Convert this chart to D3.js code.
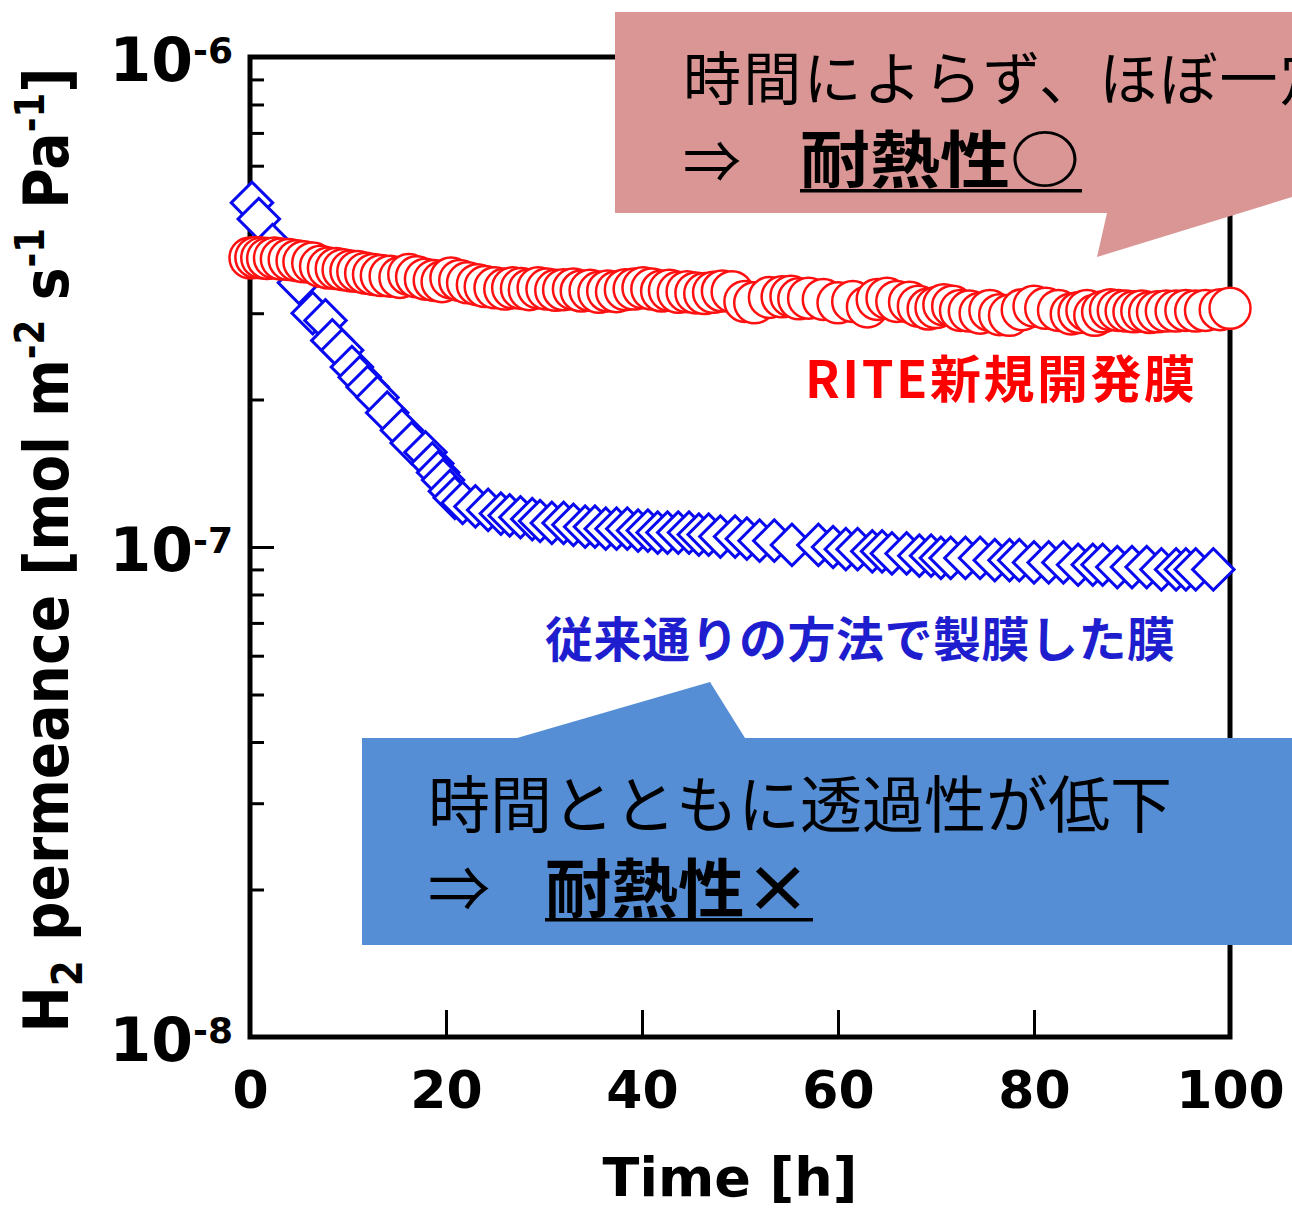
<!DOCTYPE html>
<html>
<head>
<meta charset="utf-8">
<script src="https://cdn.jsdelivr.net/npm/d3@7"></script>
<style>
  body { margin: 0; background: #fff; }
  svg { display: block; }
</style>
</head>
<body>
<script>
// H2 permeance of the newly developed membrane (RITE) vs time, in units of 1e-7 mol m-2 s-1 Pa-1
const hoursNew = [
  0, 0.6, 1.2, 1.8, 2.5, 3.2, 4.0, 4.8, 5.5, 6.4,
  7.2, 8.0, 8.8, 9.5, 10.3, 11.0, 11.8, 12.6, 13.4, 14.3,
  15.3, 16.2, 17.0, 17.9, 18.8, 19.6, 20.5, 21.4, 22.2, 23.2,
  24.0, 25.0, 26.0, 26.8, 27.7, 28.5, 29.4, 30.3, 31.2, 32.0,
  33.0, 33.8, 34.7, 35.6, 36.5, 37.4, 38.3, 39.2, 40.1, 41.0,
  42.0, 42.8, 43.7, 44.6, 45.5, 46.4, 47.3, 48.2, 49.2, 50.5,
  51.5, 53.0, 54.3, 55.2, 56.0, 57.0, 58.5, 60.0, 61.5, 63.0,
  64.0, 65.0, 66.0, 67.3, 68.2, 69.2, 70.0, 70.8, 71.7, 72.5,
  73.4, 74.5, 75.5, 76.5, 77.5, 78.8, 80.0, 81.2, 82.5, 83.8,
  84.6, 85.4, 86.2, 87.0, 87.8, 88.6, 89.4, 90.2, 91.0, 91.8,
  92.6, 93.5, 94.5, 95.5, 96.5, 97.5, 99.0, 100.0
];
const permNew = [
  3.89, 3.90, 3.89, 3.88, 3.89, 3.87, 3.86, 3.84, 3.82, 3.80,
  3.74, 3.71, 3.70, 3.68, 3.66, 3.65, 3.62, 3.60, 3.58, 3.57,
  3.55, 3.60, 3.56, 3.52, 3.50, 3.48, 3.54, 3.50, 3.46, 3.43,
  3.40, 3.38, 3.36, 3.38, 3.37, 3.35, 3.38, 3.36, 3.34, 3.35,
  3.36, 3.33, 3.34, 3.31, 3.33, 3.32, 3.35, 3.36, 3.38, 3.36,
  3.33, 3.34, 3.31, 3.32, 3.30, 3.29, 3.31, 3.33, 3.32, 3.17,
  3.15, 3.23, 3.24, 3.25, 3.21, 3.22, 3.20, 3.15, 3.17, 3.09,
  3.20, 3.22, 3.17, 3.16, 3.10, 3.06, 3.08, 3.12, 3.10, 3.04,
  3.03, 3.00, 3.04, 2.98, 2.97, 3.05, 3.10, 3.07, 3.04, 2.99,
  3.01, 3.04, 2.97, 3.02, 3.05, 3.04, 3.03, 3.02, 3.03, 3.01,
  3.02, 3.03, 3.03, 3.04, 3.03, 3.04, 3.05, 3.07
];

// Conventionally prepared membrane, same units
const hoursOld = [
  0.2, 0.9, 2.3, 3.8, 5.0, 6.4, 7.7, 8.4, 9.4, 10.4,
  11.2, 12.0, 13.0, 14.0, 15.5, 16.5, 17.9, 18.6, 19.2, 19.7,
  20.4, 20.9, 21.7, 23.0, 24.3, 25.6, 26.5, 27.6, 28.8, 29.6,
  30.8, 32.0, 33.0, 34.2, 35.2, 36.3, 37.4, 38.5, 39.6, 40.6,
  41.6, 42.6, 43.7, 44.8, 45.8, 46.8, 48.0, 49.5, 50.7, 52.0,
  53.5, 55.3, 58.0, 59.5, 60.8, 62.0, 63.5, 64.5, 65.5, 67.0,
  68.3, 69.5, 70.5, 71.5, 73.0, 74.5, 76.0, 77.5, 78.5, 80.0,
  81.5, 83.0, 84.5, 86.0, 87.0, 88.5, 90.0, 91.5, 93.0, 94.5,
  95.5, 96.5, 98.3
];
const permOld = [
  5.04, 4.67, 4.13, 3.76, 3.46, 3.00, 2.90, 2.64, 2.52, 2.33,
  2.22, 2.12, 2.02, 1.88, 1.73, 1.63, 1.56, 1.48, 1.42, 1.37,
  1.30, 1.26, 1.23, 1.21, 1.19, 1.17, 1.16, 1.15, 1.14, 1.13,
  1.12, 1.12, 1.11, 1.10, 1.10, 1.09, 1.09, 1.09, 1.08, 1.08,
  1.07, 1.07, 1.07, 1.07, 1.06, 1.06, 1.05, 1.05, 1.04, 1.03,
  1.03, 1.01, 1.01, 1.00, 0.99, 0.99, 0.98, 0.98, 0.97, 0.97,
  0.96, 0.96, 0.95, 0.95, 0.95, 0.95, 0.94, 0.94, 0.94, 0.93,
  0.93, 0.93, 0.92, 0.92, 0.92, 0.91, 0.91, 0.91, 0.90, 0.90,
  0.90, 0.90, 0.90
];

const xTickValues = [0, 20, 40, 60, 80, 100];
const yDecadeExponents = [-6, -7, -8];
const labelNew = "RITE新規開発膜";
const labelOld = "従来通りの方法で製膜した膜";
const noteNew = ["時間によらず、ほぼ一定", "⇒", "耐熱性○"];
const noteOld = ["時間とともに透過性が低下", "⇒", "耐熱性×"];

const W = 1292, H = 1210;
const unit = 1e-7;
const latin = "'DejaVu Sans', Verdana, sans-serif";
const cjk = "'Noto Sans CJK JP', 'Noto Sans', sans-serif";

const svg = d3.select("body").append("svg")
  .attr("width", W).attr("height", H)
  .attr("viewBox", `0 0 ${W} ${H}`);
svg.append("rect").attr("width", W).attr("height", H).attr("fill", "#fff");

const x = d3.scaleLinear().domain([0, 100]).range([250, 1230]);
const y = d3.scaleLog().domain([1e-8, 1e-6]).range([1037, 57]);

// ---- axes ----
const minorTicks = [];
[-8, -7].forEach(e => { for (let m = 2; m <= 9; m++) minorTicks.push(m * Math.pow(10, e)); });

const gMinor = svg.append("g").attr("transform", `translate(${x(0)},0)`)
  .call(d3.axisLeft(y).tickValues(minorTicks).tickSize(-14).tickFormat(""));
gMinor.select(".domain").remove();
gMinor.selectAll(".tick line").attr("stroke", "#000").attr("stroke-width", 3);

const gMajor = svg.append("g").attr("transform", `translate(${x(0)},0)`)
  .call(d3.axisLeft(y).tickValues(yDecadeExponents.map(e => Math.pow(10, e))).tickSize(-24).tickFormat(""));
gMajor.select(".domain").remove();
gMajor.selectAll(".tick line").attr("stroke", "#000").attr("stroke-width", 3);

const gx = svg.append("g").attr("transform", `translate(0,${y(1e-8)})`)
  .call(d3.axisBottom(x).tickValues(xTickValues).tickSize(-27).tickPadding(34).tickFormat(d3.format("d")));
gx.select(".domain").remove();
gx.selectAll(".tick line").attr("stroke", "#000").attr("stroke-width", 3);
gx.selectAll(".tick text")
  .attr("font-family", latin).attr("font-weight", "bold")
  .attr("font-size", 52).attr("fill", "#000");

// y decade labels: 10^-6, 10^-7, 10^-8
yDecadeExponents.forEach(e => {
  const t = svg.append("text")
    .attr("x", 233).attr("y", y(Math.pow(10, e)) + 24)
    .attr("text-anchor", "end")
    .attr("font-family", latin).attr("font-weight", "bold").attr("fill", "#000");
  t.append("tspan").attr("font-size", 60).text("10");
  t.append("tspan").attr("font-size", 36).attr("dy", -18).text("-" + (-e));
});

// plot frame
svg.append("rect")
  .attr("x", x(0)).attr("y", y(1e-6))
  .attr("width", x(100) - x(0)).attr("height", y(1e-8) - y(1e-6))
  .attr("fill", "none").attr("stroke", "#000").attr("stroke-width", 5);

// axis titles
svg.append("text")
  .attr("x", x(50) - 10).attr("y", 1196)
  .attr("text-anchor", "middle")
  .attr("font-family", latin).attr("font-weight", "bold").attr("font-size", 54)
  .text("Time [h]");

const yt = svg.append("text")
  .attr("transform", `translate(68,${(y(1e-6) + y(1e-8)) / 2 + 3}) rotate(-90)`)
  .attr("text-anchor", "middle")
  .attr("font-family", latin).attr("font-weight", "bold").attr("font-size", 62)
  .attr("textLength", 965).attr("lengthAdjust", "spacingAndGlyphs");
yt.append("tspan").text("H");
yt.append("tspan").attr("font-size", 42).attr("dy", 14).text("2");
yt.append("tspan").attr("dy", -14).text(" permeance [mol m");
yt.append("tspan").attr("font-size", 40).attr("dy", -24).text("-2");
yt.append("tspan").attr("dy", 24).text(" s");
yt.append("tspan").attr("font-size", 40).attr("dy", -24).text("-1");
yt.append("tspan").attr("dy", 24).text(" Pa");
yt.append("tspan").attr("font-size", 40).attr("dy", -24).text("-1");
yt.append("tspan").attr("dy", 24).text("]");

// ---- data ----
const oldPts = hoursOld.map((h, i) => ({ h, v: permOld[i] * unit }));
const newPts = hoursNew.map((h, i) => ({ h, v: permNew[i] * unit }));

svg.append("g").selectAll("path").data(oldPts).join("path")
  .attr("d", d3.symbol(d3.symbolSquare, 860))
  .attr("transform", d => `translate(${x(d.h)},${y(d.v)}) rotate(45)`)
  .attr("fill", "#fff").attr("stroke", "#0a0af0").attr("stroke-width", 3);

svg.append("g").selectAll("circle").data(newPts).join("circle")
  .attr("cx", d => x(d.h)).attr("cy", d => y(d.v)).attr("r", 20.5)
  .attr("fill", "#fff").attr("stroke", "#ff1010").attr("stroke-width", 2.5);

// series labels
svg.append("text")
  .attr("x", 805).attr("y", 398)
  .attr("font-family", cjk).attr("font-weight", "bold").attr("font-size", 51)
  .attr("fill", "#ff0000")
  .attr("textLength", 390).attr("lengthAdjust", "spacing")
  .text(labelNew);

svg.append("text")
  .attr("x", 545).attr("y", 657)
  .attr("font-family", cjk).attr("font-weight", "bold").attr("font-size", 48)
  .attr("fill", "#1e1ecf")
  .attr("textLength", 630).attr("lengthAdjust", "spacing")
  .text(labelOld);

// ---- callouts ----
const line = d3.line();
svg.append("path")
  .attr("d", line([[615, 12], [1292, 12], [1292, 197], [1097, 257], [1107, 213], [615, 213]]) + "Z")
  .attr("fill", "#d99694");
svg.append("path")
  .attr("d", line([[362, 738], [517, 738], [710, 682], [745, 738], [1292, 738], [1292, 945], [362, 945]]) + "Z")
  .attr("fill", "#558ed5");

function note(lines, x0, y1, y2, size1, spacing1, boldX, boldW, boldSize) {
  svg.append("text").attr("x", x0).attr("y", y1)
    .attr("font-family", cjk).attr("font-size", size1).attr("fill", "#000")
    .attr("letter-spacing", spacing1)
    .text(lines[0]);
  svg.append("text").attr("x", x0).attr("y", y2)
    .attr("font-family", cjk).attr("font-size", size1).attr("fill", "#000")
    .text(lines[1]);
  svg.append("text").attr("x", boldX).attr("y", y2)
    .attr("font-family", cjk).attr("font-weight", "bold").attr("font-size", boldSize).attr("fill", "#000")
    .attr("textLength", boldW).attr("lengthAdjust", "spacingAndGlyphs")
    .text(lines[2]);
  svg.append("rect").attr("x", boldX).attr("y", y2 + 6).attr("width", boldW + 2).attr("height", 3.5).attr("fill", "#000");
}
note(noteNew, 683, 100, 183, 58, 2.2, 800, 280, 62);
note(noteOld, 428, 828, 912, 62, 0, 545, 266, 64);
</script>
</body>
</html>
